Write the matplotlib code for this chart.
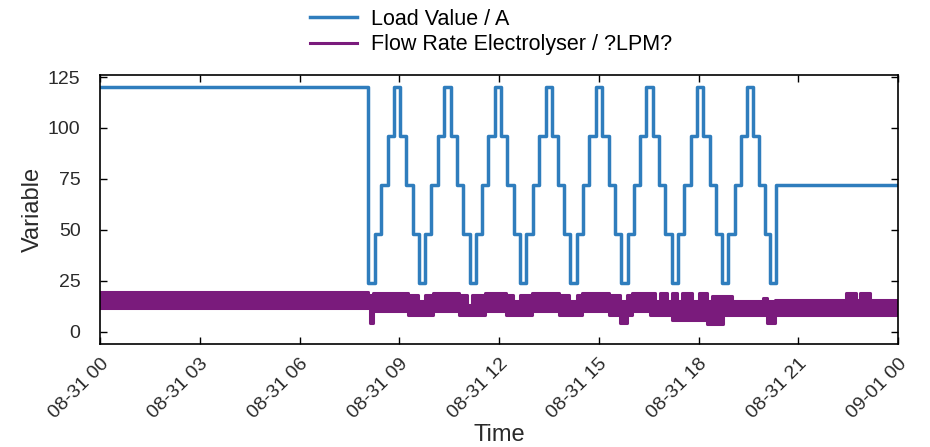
import numpy as np
import matplotlib
matplotlib.use("Agg")
from matplotlib import pyplot as plt
import matplotlib.dates as mdates

plt.rcParams['font.family'] = ['Liberation Sans', 'DejaVu Sans']

start = np.datetime64('2021-08-31T00:00')

# Load value / A : step changes (hours after 08-31 00:00, new value)
load_t = [0.00, 8.08,
          8.27, 8.46, 8.65, 8.84, 9.03, 9.22, 9.41, 9.60,
          9.79, 9.98, 10.17, 10.36, 10.55, 10.74, 10.93, 11.12,
          11.31, 11.50, 11.69, 11.88, 12.07, 12.26, 12.45, 12.64,
          12.83, 13.02, 13.21, 13.40, 13.59, 13.78, 13.97, 14.16,
          14.35, 14.54, 14.73, 14.92, 15.11, 15.30, 15.49, 15.68,
          15.87, 16.06, 16.25, 16.44, 16.63, 16.82, 17.01, 17.20,
          17.39, 17.58, 17.77, 17.96, 18.15, 18.34, 18.53, 18.72,
          18.91, 19.10, 19.29, 19.48, 19.66, 19.83, 20.00, 20.15,
          20.32, 24.00]
load_v = [120, 24,
          48, 72, 96, 120, 96, 72, 48, 24,
          48, 72, 96, 120, 96, 72, 48, 24,
          48, 72, 96, 120, 96, 72, 48, 24,
          48, 72, 96, 120, 96, 72, 48, 24,
          48, 72, 96, 120, 96, 72, 48, 24,
          48, 72, 96, 120, 96, 72, 48, 24,
          48, 72, 96, 120, 96, 72, 48, 24,
          48, 72, 96, 120, 96, 72, 48, 24,
          72, 72]

# Flow rate electrolyser: band of the noisy signal (lower / upper envelope)
flow_t = [0.00, 8.05, 8.12, 8.22, 9.25, 9.55, 9.77, 10.00, 10.80, 11.04,
          11.20, 11.58, 12.20, 12.42, 12.63, 13.00, 13.80, 14.10, 14.35, 14.50,
          15.30, 15.65, 15.85, 16.00, 16.54, 16.70, 16.85, 17.05, 17.20, 17.35,
          17.50, 17.80, 18.00, 18.25, 18.40, 18.75, 19.00, 19.95, 20.05, 20.30,
          22.45, 22.75, 22.85, 23.15, 24.00]
flow_lo = [11.5, 12, 4.5, 10, 8, 8, 8, 10, 8, 8,
           8, 10, 8, 8, 8, 10, 8, 8, 8, 10,
           8, 4.5, 8, 10, 8, 8, 8, 8, 6, 6,
           6, 6, 6, 4, 4, 8, 8, 8, 4.5, 8,
           8, 8, 8, 8, 8]
flow_hi = [19.5, 18, 18, 19, 18, 15, 18, 19, 18, 13,
           18, 19, 18, 15, 18, 19, 18, 15, 18, 19,
           18, 15, 18, 19, 19, 15, 19, 15, 19, 15,
           19, 15, 19, 15, 17.5, 17.5, 15, 16.5, 15, 15.5,
           19, 15.5, 19, 15.5, 15.5]

yticks = [0, 25, 50, 75, 100, 125]

blue = '#2f7dbd'
purple = '#7a1b7c'
txt = '#2a2a2a'

lt = start + (np.array(load_t) * 60).astype('timedelta64[m]')
ft = start + (np.array(flow_t) * 60).astype('timedelta64[m]')

fig = plt.figure(figsize=(9.3, 4.47), dpi=100)
ax = fig.add_axes([100/930, 1 - 344/447, 798/930, 269/447])

ax.step(lt, load_v, where='post', color=blue, lw=2.5, label='Load Value / A')
ax.fill_between(ft, flow_lo, flow_hi, step='post', color=purple, lw=0)
ax.step(ft, flow_lo, where='post', color=purple, lw=2.2,
        label='Flow Rate Electrolyser / ?LPM?')
ax.step(ft, flow_hi, where='post', color=purple, lw=2.2)

ax.set_xlim(start, start + np.timedelta64(24, 'h'))
ax.set_ylim(-6, 126)
ax.set_yticks(yticks)
ax.xaxis.set_major_locator(mdates.HourLocator(byhour=range(0, 24, 3)))
ax.xaxis.set_major_formatter(mdates.DateFormatter('%m-%d %H'))

ax.tick_params(direction='in', top=True, right=True, length=5, width=1,
               labelsize=14, labelcolor=txt)
ax.tick_params(axis='y', pad=14)
ax.tick_params(axis='x', pad=8)
for lab in ax.get_xticklabels():
    lab.set_rotation(45)
    lab.set_ha('right')
    lab.set_rotation_mode('anchor')
for s in ax.spines.values():
    s.set_linewidth(1.2)

ax.set_xlabel('Time', fontsize=17, color=txt, labelpad=2)
ax.set_ylabel('Variable', fontsize=17, color=txt, labelpad=3)

fig.legend(loc='upper left', bbox_to_anchor=(310/930, 1 - 9/447),
           frameon=False, fontsize=15.5, handlelength=2.2, handletextpad=0.65,
           borderpad=0, borderaxespad=0, labelspacing=0.2)

plt.savefig('out.png', dpi=100)
